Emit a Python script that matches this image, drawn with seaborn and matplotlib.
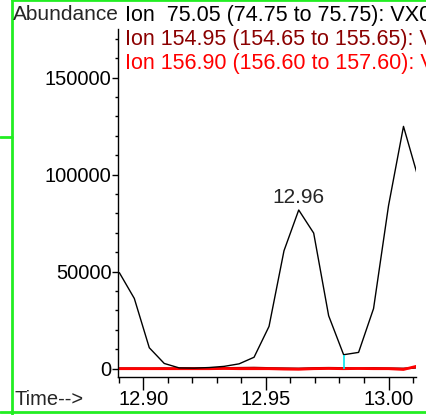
import numpy as np
import pandas as pd
import matplotlib
matplotlib.use('Agg')
import matplotlib.pyplot as plt
from matplotlib.lines import Line2D
from matplotlib.ticker import MultipleLocator
import seaborn as sns

sns.set_style('white')
plt.rcParams['font.family'] = ['Liberation Sans', 'DejaVu Sans']

# scan times (min) and abundances
times = [12.8903, 12.8964, 12.9025, 12.9086, 12.9147, 12.9208, 12.9269,
         12.9330, 12.9391, 12.9452, 12.9513, 12.9574, 12.9634, 12.9695,
         12.9756, 12.9817, 12.9878, 12.9939, 13.0000, 13.0061, 13.0122]
ion_75 = [49500, 36200, 10800, 2700, 400, 300, 600,
          1200, 2500, 5900, 21800, 60800, 81800, 69900,
          27300, 7200, 8400, 31000, 84000, 124900, 98000]
ion_155 = [200, 200, 150, 200, 100, 150, 200,
           300, 400, 500, 300, 200, 100, 300,
           400, 300, 200, 300, 200, 100, 600]
ion_157 = [0, 0, 0, 0, 0, 0, 0,
           100, 0, 0, 0, -200, -300, 0,
           100, 0, 100, 0, 0, -400, 1500]

legend_lines = ['Ion  75.05 (74.75 to 75.75): VX0',
                'Ion 154.95 (154.65 to 155.65): VX0',
                'Ion 156.90 (156.60 to 157.60): VX0']
legend_colors = ['black', '#8b0000', '#ff0000']

peak_label = '12.96'
peak_idx = 12
marker_idx = 15

df = pd.DataFrame({'time': times, 'ion75': ion_75, 'ion155': ion_155, 'ion157': ion_157})

W, H = 426, 415
fig = plt.figure(figsize=(W / 100, H / 100), dpi=100)
ax = fig.add_axes([118 / W, 1 - 377 / H, (416 - 118) / W, (377 - 29) / H])

sns.lineplot(data=df, x='time', y='ion155', color='#8b0000', lw=1.5, ax=ax)
sns.lineplot(data=df, x='time', y='ion157', color='#ff0000', lw=2.0, ax=ax)
sns.lineplot(data=df, x='time', y='ion75', color='black', lw=1.0, ax=ax)

# integration marker
ax.vlines(times[marker_idx], 0, ion_75[marker_idx], color='#00e5ee', lw=1.2)

ax.annotate(peak_label, (times[peak_idx], ion_75[peak_idx]), xytext=(0, 2),
            textcoords='offset points', ha='center', va='bottom', fontsize=15)

ax.set_xlim(12.88975, 13.0112)
ax.set_ylim(-4280, 175100)
ax.set_xlabel('')
ax.set_ylabel('')
ax.set_xticks([12.90, 12.95, 13.00])
ax.set_xticklabels(['12.90', '12.95', '13.00'])
ax.set_yticks([0, 50000, 100000, 150000])
ax.set_yticklabels(['0', '50000', '100000', '150000'])
ax.xaxis.set_minor_locator(MultipleLocator(0.01))
ax.yaxis.set_minor_locator(MultipleLocator(10000))
ax.tick_params(axis='both', which='major', labelsize=14.5, length=4, width=1,
               color='black', labelcolor='black')
ax.tick_params(axis='both', which='minor', length=2.5, width=1, color='black')
ax.tick_params(axis='x', which='major', length=9, pad=0.5)
ax.tick_params(axis='x', which='minor', length=4)
ax.tick_params(axis='y', which='major', pad=0.5)
ax.tick_params(bottom=True, left=True, which='both')
for s in ['top', 'right']:
    ax.spines[s].set_visible(False)
for s in ['left', 'bottom']:
    ax.spines[s].set_color('black')
    ax.spines[s].set_linewidth(1)
ax.set_facecolor('white')

fig.text(13 / W, 1 - 15 / H, 'Abundance', fontsize=15, ha='left', va='center')
for i, (txt, col) in enumerate(zip(legend_lines, legend_colors)):
    fig.text(125 / W, 1 - (16 + 24 * i) / H, txt, color=col, fontsize=15.5,
             ha='left', va='center')
fig.text(14 / W, 1 - 399 / H, 'Time-->', fontsize=14.5, ha='left', va='center')

# green window frame
green = '#22ee22'
fig.add_artist(Line2D([11.5 / W, 11.5 / W], [0, 1], color=green, lw=2))
fig.add_artist(Line2D([11.5 / W, 1], [1 - 0.5 / H, 1 - 0.5 / H], color=green, lw=2))
fig.add_artist(Line2D([0, 1], [1 - 411.5 / H, 1 - 411.5 / H], color=green, lw=2))
fig.add_artist(Line2D([0, 11.5 / W], [1 - 136.5 / H, 1 - 136.5 / H], color=green, lw=2))

fig.savefig('out.png', dpi=100)
